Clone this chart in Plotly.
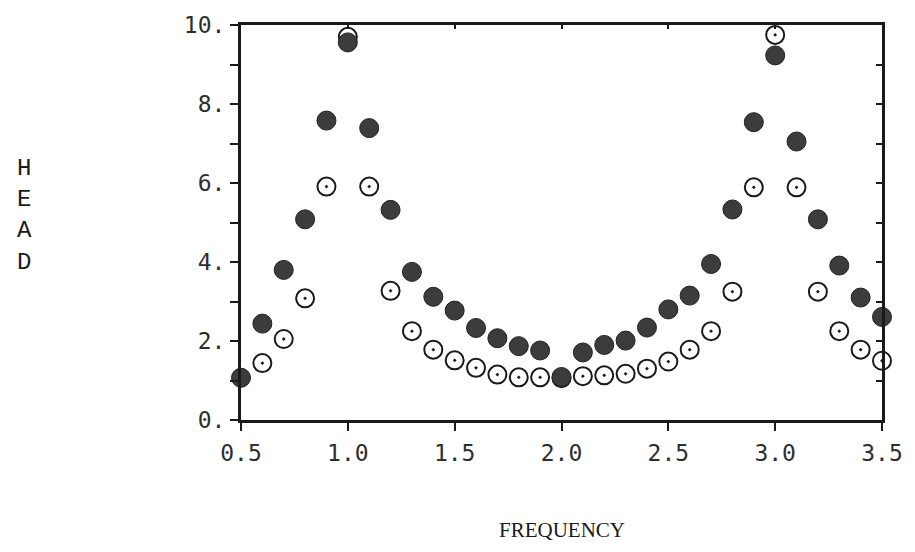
import plotly.graph_objects as go

# Frequency sweep, 0.5 to 3.5 in steps of 0.1
frequency = [0.5, 0.6, 0.7, 0.8, 0.9, 1.0, 1.1, 1.2, 1.3, 1.4, 1.5, 1.6, 1.7, 1.8, 1.9, 2.0,
             2.1, 2.2, 2.3, 2.4, 2.5, 2.6, 2.7, 2.8, 2.9, 3.0, 3.1, 3.2, 3.3, 3.4, 3.5]

# Head, solid markers
head_solid = [1.07, 2.44, 3.80, 5.08, 7.58, 9.56, 7.39, 5.32, 3.75, 3.12, 2.77, 2.33, 2.07, 1.87, 1.76, 1.09,
              1.71, 1.90, 2.01, 2.34, 2.80, 3.15, 3.95, 5.33, 7.54, 9.23, 7.05, 5.08, 3.91, 3.10, 2.61]

# Head, open markers (none at 0.5)
head_open = [None, 1.44, 2.05, 3.08, 5.91, 9.70, 5.91, 3.27, 2.25, 1.78, 1.51, 1.32, 1.15, 1.08, 1.08, 1.06,
             1.11, 1.13, 1.17, 1.30, 1.48, 1.78, 2.25, 3.25, 5.89, 9.75, 5.89, 3.25, 2.25, 1.78, 1.50]

x_ticks = [0.5, 1.0, 1.5, 2.0, 2.5, 3.0, 3.5]
x_tick_text = ["0.5", "1.0", "1.5", "2.0", "2.5", "3.0", "3.5"]
y_ticks = [0, 1, 2, 3, 4, 5, 6, 7, 8, 9, 10]
y_tick_text = ["0.", "", "2.", "", "4.", "", "6.", "", "8.", "", "10."]

INK = "#1a1a1a"
tick_font = dict(family="DejaVu Sans Mono", size=23, color="#2e2e2e")

fig = go.Figure()

fig.add_trace(go.Scatter(
    x=frequency, y=head_open, mode="markers", cliponaxis=False,
    marker=dict(symbol="circle-dot", size=18, color="white",
                line=dict(color=INK, width=2)),
    showlegend=False, hoverinfo="x+y",
))

fig.add_trace(go.Scatter(
    x=frequency, y=head_solid, mode="markers", cliponaxis=False,
    marker=dict(symbol="circle", size=19, color="#3c3c3c",
                line=dict(color="#222222", width=1)),
    showlegend=False, hoverinfo="x+y",
))

# Empty trace that carries the mirrored top/right axes
fig.add_trace(go.Scatter(x=[], y=[], xaxis="x2", yaxis="y2",
                         showlegend=False, hoverinfo="skip"))

fig.update_layout(
    width=915, height=552,
    margin=dict(l=241, r=24, t=18, b=132),
    paper_bgcolor="white", plot_bgcolor="white",
    xaxis=dict(range=[0.5, 3.5], tickvals=x_ticks, ticktext=x_tick_text,
               ticks="outside", ticklen=8, tickwidth=2, tickcolor=INK,
               showline=True, linewidth=3, linecolor=INK,
               showgrid=False, zeroline=False, tickfont=tick_font,
               ticklabelstandoff=2),
    yaxis=dict(range=[0, 10], tickvals=y_ticks, ticktext=y_tick_text,
               ticks="outside", ticklen=8, tickwidth=2, tickcolor=INK,
               showline=True, linewidth=3, linecolor=INK,
               showgrid=False, zeroline=False, tickfont=tick_font,
               ticklabelstandoff=0),
    xaxis2=dict(range=[0.5, 3.5], overlaying="x", side="top", anchor="y2",
                tickvals=[1.0, 1.5, 2.0, 2.5, 3.0], ticks="inside", ticklen=4,
                tickwidth=2, tickcolor=INK, showticklabels=False,
                showline=True, linewidth=3, linecolor=INK,
                showgrid=False, zeroline=False),
    yaxis2=dict(range=[0, 10], overlaying="y", side="right", anchor="x2",
                tickvals=[1, 2, 3, 4, 5, 6, 7, 8, 9], ticks="inside", ticklen=6,
                tickwidth=2, tickcolor=INK, showticklabels=False,
                showline=True, linewidth=3, linecolor=INK,
                showgrid=False, zeroline=False),
    annotations=[
        dict(text="H<br>E<br>A<br>D", xref="paper", yref="paper",
             x=-241 / 650 + 21 / 650, y=1 - (212 - 18) / 402,
             xanchor="center", yanchor="middle", showarrow=False,
             font=dict(family="Liberation Mono", size=24, color=INK)),
        dict(text="FREQUENCY", xref="paper", yref="paper",
             x=0.5, y=-(532 - 420) / 402,
             xanchor="center", yanchor="middle", showarrow=False,
             font=dict(family="Liberation Serif", size=21, color=INK)),
    ],
)

fig.write_html("out.html")
